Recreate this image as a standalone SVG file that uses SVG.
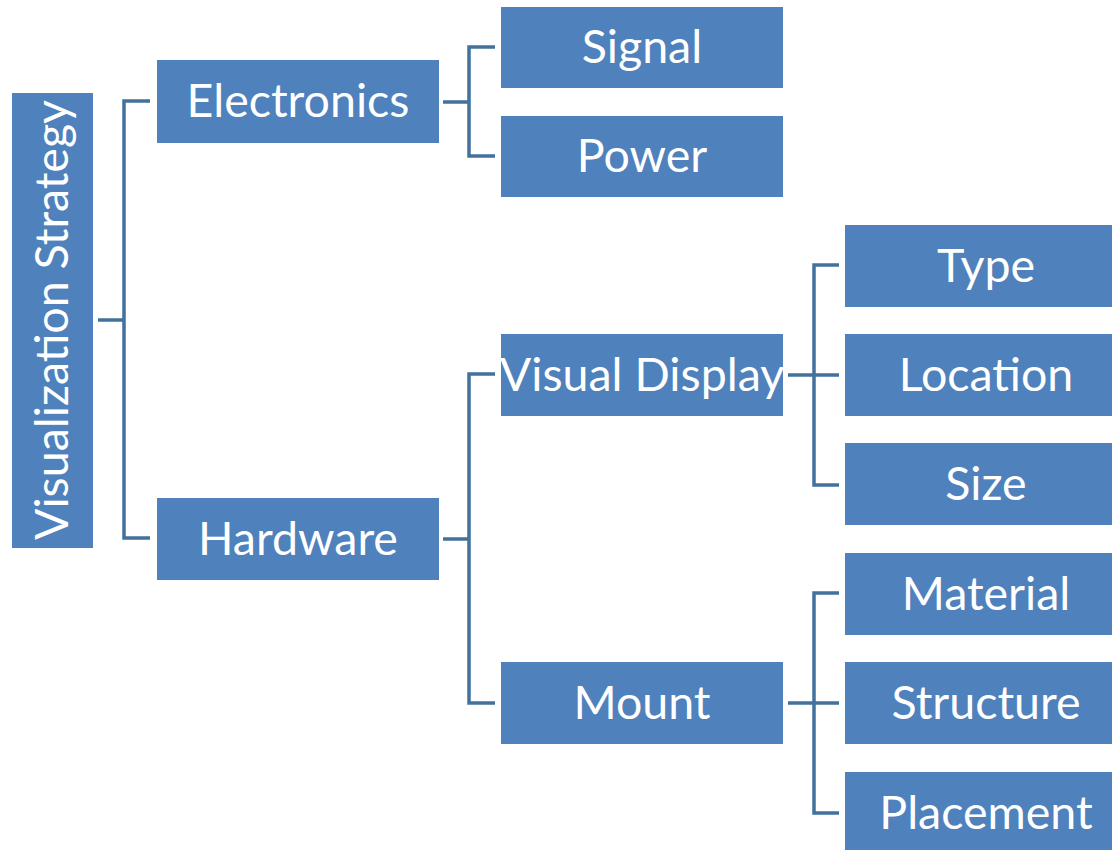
<svg xmlns="http://www.w3.org/2000/svg" width="1112" height="850" viewBox="0 0 1112 850">
<style>
.box{fill:#4F81BD;}
.lbl{fill:#FFFFFF;font-family:Lato,"Open Sans","Liberation Sans",sans-serif;font-size:46.5px;text-anchor:middle;}
.con{fill:none;stroke:#41719C;stroke-width:3.5;}
</style>
<rect width="1112" height="850" fill="#FFFFFF"/>
<g id="connectors">
<path class="con" d="M98,320 H124 M150,101 H124 V538 H150"/>
<path class="con" d="M443,102 H469 M495,47 H469 V156 H495"/>
<path class="con" d="M443,539 H469 M495,374 H469 V703 H495"/>
<path class="con" d="M788,375 H839 M839,265 H814 V485 H839"/>
<path class="con" d="M788,703 H839 M839,593 H814 V813 H839"/>
</g>
<g id="root"><rect class="box" x="12" y="93" width="81" height="455"/><text class="lbl" transform="translate(52,320) rotate(-90)" x="0" y="16">Visualization Strategy</text></g>
<g id="electronics"><rect class="box" x="157" y="60" width="282" height="83"/><text class="lbl" x="298" y="117">Electronics</text></g>
<g id="hardware"><rect class="box" x="157" y="498" width="282" height="82"/><text class="lbl" x="298" y="555">Hardware</text></g>
<g id="signal"><rect class="box" x="501" y="7" width="282" height="81"/><text class="lbl" x="642" y="63">Signal</text></g>
<g id="power"><rect class="box" x="501" y="116" width="282" height="81"/><text class="lbl" x="642" y="172">Power</text></g>
<g id="visual-display"><rect class="box" x="501" y="334" width="282" height="82"/><text class="lbl" x="642" y="391">Visual Display</text></g>
<g id="mount"><rect class="box" x="501" y="662" width="282" height="82"/><text class="lbl" x="642" y="719">Mount</text></g>
<g id="type"><rect class="box" x="845" y="225" width="283" height="82"/><text class="lbl" x="986" y="282">Type</text></g>
<g id="location"><rect class="box" x="845" y="334" width="283" height="82"/><text class="lbl" x="986" y="391">Location</text></g>
<g id="size"><rect class="box" x="845" y="443" width="283" height="82"/><text class="lbl" x="986" y="500">Size</text></g>
<g id="material"><rect class="box" x="845" y="553" width="283" height="82"/><text class="lbl" x="986" y="610">Material</text></g>
<g id="structure"><rect class="box" x="845" y="662" width="283" height="82"/><text class="lbl" x="986" y="719">Structure</text></g>
<g id="placement"><rect class="box" x="845" y="772" width="283" height="82"/><text class="lbl" x="986" y="829">Placement</text></g>
</svg>
